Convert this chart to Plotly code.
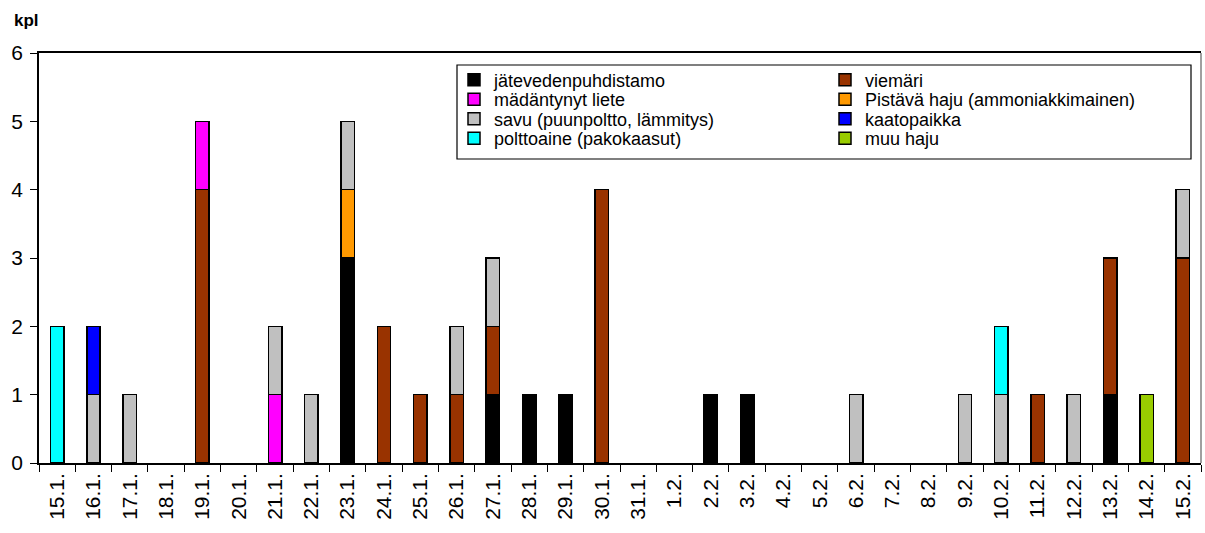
import plotly.graph_objects as go

dates = ["15.1.", "16.1.", "17.1.", "18.1.", "19.1.", "20.1.", "21.1.", "22.1.",
         "23.1.", "24.1.", "25.1.", "26.1.", "27.1.", "28.1.", "29.1.", "30.1.",
         "31.1.", "1.2.", "2.2.", "3.2.", "4.2.", "5.2.", "6.2.", "7.2.", "8.2.",
         "9.2.", "10.2.", "11.2.", "12.2.", "13.2.", "14.2.", "15.2."]

jatevedenpuhdistamo = [0, 0, 0, 0, 0, 0, 0, 0, 3, 0, 0, 0, 1, 1, 1, 0,
                       0, 0, 1, 1, 0, 0, 0, 0, 0, 0, 0, 0, 0, 1, 0, 0]
viemari = [0, 0, 0, 0, 4, 0, 0, 0, 0, 2, 1, 1, 1, 0, 0, 4,
           0, 0, 0, 0, 0, 0, 0, 0, 0, 0, 0, 1, 0, 2, 0, 3]
madantynyt = [0, 0, 0, 0, 1, 0, 1, 0, 0, 0, 0, 0, 0, 0, 0, 0,
              0, 0, 0, 0, 0, 0, 0, 0, 0, 0, 0, 0, 0, 0, 0, 0]
pistava = [0, 0, 0, 0, 0, 0, 0, 0, 1, 0, 0, 0, 0, 0, 0, 0,
           0, 0, 0, 0, 0, 0, 0, 0, 0, 0, 0, 0, 0, 0, 0, 0]
savu = [0, 1, 1, 0, 0, 0, 1, 1, 1, 0, 0, 1, 1, 0, 0, 0,
        0, 0, 0, 0, 0, 0, 1, 0, 0, 1, 1, 0, 1, 0, 0, 1]
kaatopaikka = [0, 1, 0, 0, 0, 0, 0, 0, 0, 0, 0, 0, 0, 0, 0, 0,
               0, 0, 0, 0, 0, 0, 0, 0, 0, 0, 0, 0, 0, 0, 0, 0]
polttoaine = [2, 0, 0, 0, 0, 0, 0, 0, 0, 0, 0, 0, 0, 0, 0, 0,
              0, 0, 0, 0, 0, 0, 0, 0, 0, 0, 1, 0, 0, 0, 0, 0]
muu = [0, 0, 0, 0, 0, 0, 0, 0, 0, 0, 0, 0, 0, 0, 0, 0,
       0, 0, 0, 0, 0, 0, 0, 0, 0, 0, 0, 0, 0, 0, 1, 0]

# (name, values, colour, legend row)
series = [
    ("jätevedenpuhdistamo", jatevedenpuhdistamo, "#000000", "legend"),
    ("viemäri", viemari, "#993300", "legend"),
    ("mädäntynyt liete", madantynyt, "#FF00FF", "legend2"),
    ("Pistävä haju (ammoniakkimainen)", pistava, "#FF9900", "legend2"),
    ("savu (puunpoltto, lämmitys)", savu, "#C0C0C0", "legend3"),
    ("kaatopaikka", kaatopaikka, "#0000FF", "legend3"),
    ("polttoaine (pakokaasut)", polttoaine, "#00FFFF", "legend4"),
    ("muu haju", muu, "#99CC00", "legend4"),
]

FONT = "Liberation Sans, Arial, sans-serif"

fig = go.Figure()
for name, vals, color, leg in series:
    fig.add_trace(go.Bar(
        x=dates, y=[v if v else None for v in vals], name=name, legend=leg,
        marker=dict(color=color, line=dict(color="#000000", width=1.5)),
    ))

# plot area: x 39..1201, y 53..463 px
PL, PR, PT, PB = 39, 1201, 53, 463
PW, PH = PR - PL, PB - PT


def px_x(x):
    return (x - PL) / PW


def px_y(y):
    return (PB - y) / PH


row_y = [80, 99.5, 119, 138.5]
leg_common = dict(
    orientation="h", xanchor="left", yanchor="middle",
    entrywidth=326, entrywidthmode="pixels", traceorder="normal",
    bgcolor="rgba(0,0,0,0)", borderwidth=0,
    font=dict(size=18, family=FONT, color="#000000"),
)
legends = {}
for i, key in enumerate(["legend", "legend2", "legend3", "legend4"]):
    legends[key] = dict(leg_common, x=px_x(454), y=px_y(row_y[i]))

fig.update_layout(
    barmode="stack",
    bargap=0.63,
    width=1205, height=533,
    margin=dict(l=PL, r=1205 - PR, t=PT, b=533 - PB, autoexpand=False),
    plot_bgcolor="white", paper_bgcolor="white",
    font=dict(family=FONT, color="#000000"),
    showlegend=True,
    **legends,
    xaxis=dict(
        type="category", tickangle=-90, tickson="boundaries",
        ticks="outside", ticklen=7, tickcolor="#000000",
        showline=True, linecolor="#000000", linewidth=1.5, mirror=True,
        showgrid=False, tickfont=dict(size=21), range=[-0.5, 31.5],
    ),
    yaxis=dict(
        range=[0, 6], dtick=1, ticks="outside", ticklen=7, tickcolor="#000000",
        showline=True, linecolor="#000000", linewidth=1.5,
        showgrid=False, zeroline=False, tickfont=dict(size=21),
        ticklabelstandoff=3,
    ),
    annotations=[dict(
        text="<b>kpl</b>", xref="paper", yref="paper", x=px_x(12), y=px_y(21),
        xanchor="left", yanchor="middle", showarrow=False,
        font=dict(size=17),
    )],
    shapes=[
        dict(type="line", xref="paper", yref="paper", x0=1, x1=1, y0=0, y1=1,
             line=dict(color="#808080", width=1.5)),
        dict(type="rect", xref="paper", yref="paper",
             x0=px_x(457), x1=px_x(1191), y0=px_y(159), y1=px_y(65),
             line=dict(color="#000000", width=1.2), fillcolor="white",
             layer="below"),
    ],
)

fig.write_html("out.html",
               config={"displayModeBar": False},
               post_script="document.body.style.margin='0';"
                           "document.body.style.overflow='hidden';")
